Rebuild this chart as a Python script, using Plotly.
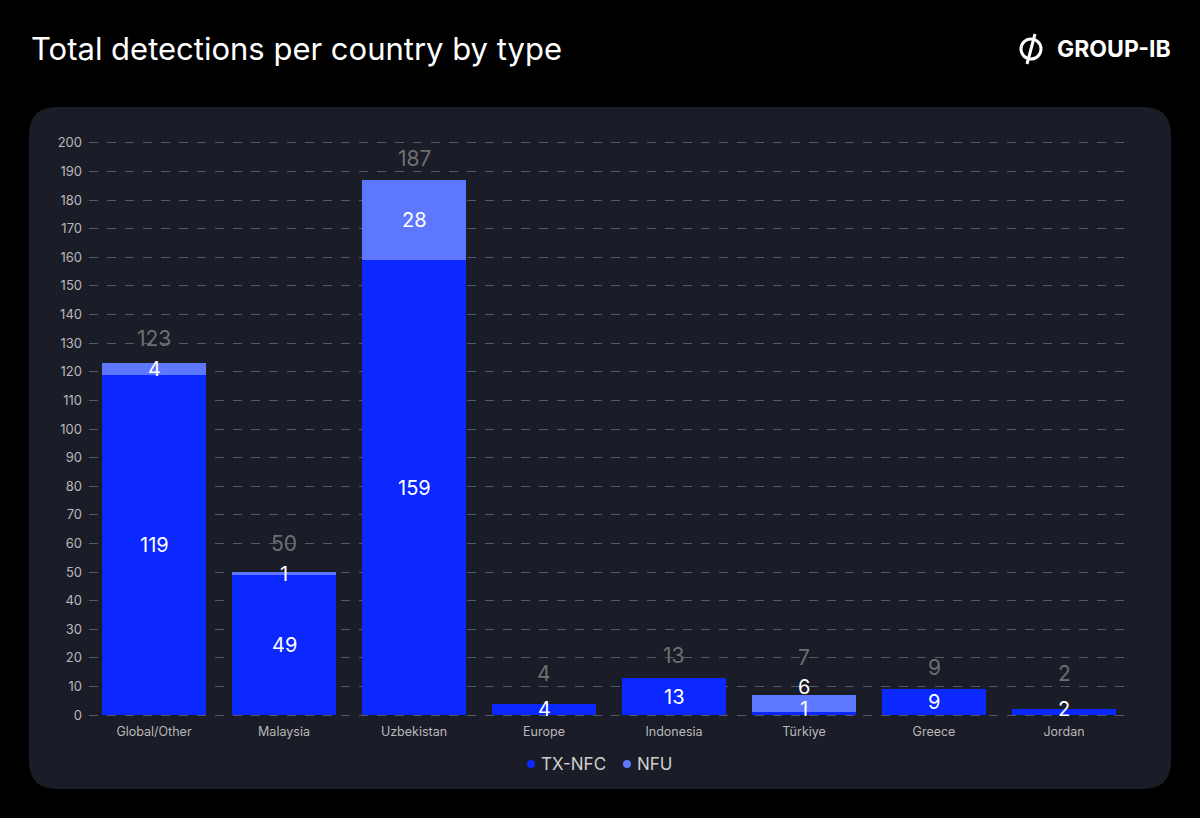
import plotly.graph_objects as go

countries = ["Global/Other", "Malaysia", "Uzbekistan", "Europe", "Indonesia", "Türkiye", "Greece", "Jordan"]
tx_nfc = [119, 49, 159, 4, 13, 1, 9, 2]
nfu = [4, 1, 28, 0, 0, 6, 0, 0]
totals = [a + b for a, b in zip(tx_nfc, nfu)]
series_names = ["TX-NFC", "NFU"]

C_TX = "#0a28ff"
C_NFU = "#5d78ff"
FONT = "Inter, Roboto, sans-serif"

W, H = 1200, 818
L, R, T, B = 89, 71, 140, 100
pw, ph = W - L - R, H - T - B
Y_RANGE = [-1, 201]
K = ph / (Y_RANGE[1] - Y_RANGE[0])  # pixels per unit


def px(x):
    return (x - L) / pw


def py(y):
    return (H - B - y) / ph


fig = go.Figure()
for name, vals, col in [(series_names[0], tx_nfc, C_TX), (series_names[1], nfu, C_NFU)]:
    fig.add_trace(go.Bar(x=countries, y=vals, name=name,
                         marker=dict(color=col, line_width=0), showlegend=False))

# segment labels and totals (positions derived from the values)
for c, a, b, t in zip(countries, tx_nfc, nfu, totals):
    last = 0
    base = 0
    for v in (a, b):
        if v:
            mid = (base + v / 2) * K
            cpos = max(mid, 6) if last == 0 else max(mid, last + 22)
            fig.add_annotation(x=c, y=0, yshift=cpos, text=str(v), showarrow=False,
                               yanchor="middle", borderpad=0,
                               font=dict(color="white", size=20, family=FONT))
            last = cpos
        base += v
    tpos = max(t * K + 22, last + 30, 42)
    fig.add_annotation(x=c, y=0, yshift=tpos, text=str(t), showarrow=False,
                       yanchor="middle", borderpad=0,
                       font=dict(color="#6f6f6f", size=21, family=FONT))

# panel
x0, x1, y0, y1, r = 29, 1171, 107, 789, 28
rx, ry = r / pw, r / ph
X0, X1, Y0, Y1 = px(x0), px(x1), py(y1), py(y0)
path = (f"M {X0+rx},{Y0} L {X1-rx},{Y0} Q {X1},{Y0} {X1},{Y0+ry} "
        f"L {X1},{Y1-ry} Q {X1},{Y1} {X1-rx},{Y1} L {X0+rx},{Y1} "
        f"Q {X0},{Y1} {X0},{Y1-ry} L {X0},{Y0+ry} Q {X0},{Y0} {X0+rx},{Y0} Z")
fig.add_shape(type="path", path=path, xref="paper", yref="paper",
              fillcolor="#1a1c27", line_width=0, layer="below")

# legend (dot + label)
for (dx, tx), name, col in zip([(531, 539), (627, 635)], series_names, [C_TX, C_NFU]):
    fig.add_shape(type="circle", xref="paper", yref="paper",
                  x0=px(dx - 4), x1=px(dx + 4), y0=py(768), y1=py(760),
                  fillcolor=col, line_width=0)
    fig.add_annotation(x=px(tx), y=py(764), xref="paper", yref="paper", xanchor="left",
                       yanchor="middle", showarrow=False, text=name,
                       font=dict(color="#cfcfcf", size=17, family=FONT))

# logo icon
cx, cy, cr = 1031, 49, 10
fig.add_shape(type="circle", xref="paper", yref="paper",
              x0=px(cx - cr), x1=px(cx + cr), y0=py(cy + cr), y1=py(cy - cr),
              line=dict(color="white", width=3))
fig.add_shape(type="line", xref="paper", yref="paper",
              x0=px(cx - 4), x1=px(cx + 4), y0=py(cy + 15), y1=py(cy - 15),
              line=dict(color="white", width=3))

fig.add_annotation(x=px(29), y=py(48), xref="paper", yref="paper", xanchor="left",
                   yanchor="middle", showarrow=False, text="Total detections per country by type",
                   font=dict(color="white", size=31, family=FONT))
fig.add_annotation(x=px(1173), y=py(49), xref="paper", yref="paper", xanchor="right",
                   yanchor="middle", showarrow=False, text="<b>GROUP-IB</b>",
                   font=dict(color="white", size=23, family=FONT))

fig.update_layout(
    width=W, height=H, margin=dict(l=L, r=R, t=T, b=B),
    paper_bgcolor="#000000", plot_bgcolor="rgba(0,0,0,0)",
    barmode="stack", bargap=0.2, showlegend=False,
    font=dict(family=FONT, color="#c4c4c4"),
    xaxis=dict(showgrid=False, zeroline=False, showline=False, ticks="",
               tickfont=dict(size=12.5, color="#b8b8b8"), ticklabelstandoff=4),
    yaxis=dict(range=Y_RANGE, dtick=10, tick0=0, showgrid=True, gridcolor="#555866",
               griddash="dash", gridwidth=1, zeroline=False, showline=False,
               tickfont=dict(size=13, color="#b8b8b8"), ticklabelstandoff=6),
)
fig.write_html("out.html", config={"displayModeBar": False},
               post_script="document.body.style.margin='0';document.body.style.background='#000';")
